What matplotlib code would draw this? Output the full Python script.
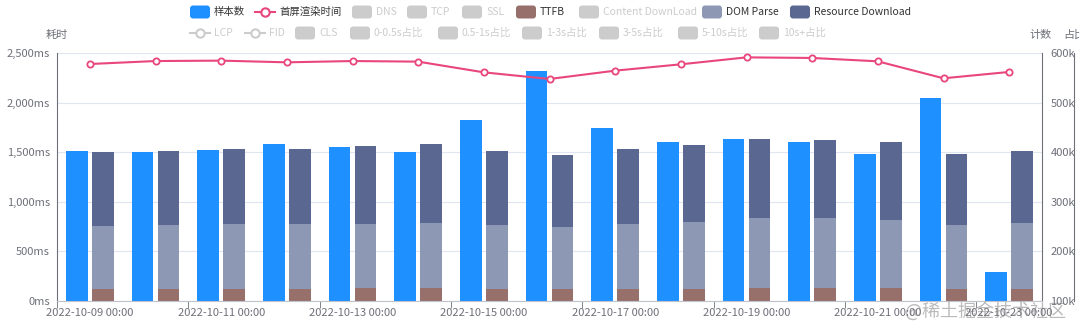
import numpy as np
import matplotlib
matplotlib.use('Agg')
import matplotlib.pyplot as plt
from matplotlib.patches import FancyBboxPatch
from matplotlib.lines import Line2D
from matplotlib.ticker import FuncFormatter

plt.rcParams['font.family'] = ['Noto Sans CJK SC', 'DejaVu Sans']

# ---- data ----
dates = ['2022-10-09 00:00', '2022-10-10 00:00', '2022-10-11 00:00', '2022-10-12 00:00',
         '2022-10-13 00:00', '2022-10-14 00:00', '2022-10-15 00:00', '2022-10-16 00:00',
         '2022-10-17 00:00', '2022-10-18 00:00', '2022-10-19 00:00', '2022-10-20 00:00',
         '2022-10-21 00:00', '2022-10-22 00:00', '2022-10-23 00:00']
# 样本数 (计数, right axis)
sample_count = [402600, 400600, 404600, 416800, 411400, 399400, 464400, 563800,
                448400, 421400, 427600, 421400, 395400, 509400, 159000]
# 首屏渲染时间 (ms)
fcp_ms = [2389, 2419, 2423, 2406, 2419, 2413, 2305, 2238, 2322, 2386, 2456, 2450, 2416, 2245, 2309]
# stacked timing segments (ms)
ttfb_ms = [117, 117, 117, 117, 128, 128, 117, 117, 124, 124, 128, 128, 134, 117, 117]
dom_parse_ms = [638, 645, 655, 655, 651, 661, 645, 628, 648, 675, 711, 704, 685, 645, 672]
resource_ms = [745, 751, 758, 762, 785, 795, 755, 725, 762, 778, 792, 789, 782, 721, 728]

# ---- colours ----
C_BLUE = '#1e90ff'
C_LINE = '#e8467c'
C_TTFB = '#97706c'
C_DOM = '#8d98b4'
C_RES = '#5a6790'
C_OFF = '#cccccc'
C_AXIS = '#6e7079'
C_GRID = '#e0e6f1'

W, H = 1080, 329
fig = plt.figure(figsize=(W / 100, H / 100), dpi=100)
ax = fig.add_axes([57 / W, (H - 301) / H, (1042 - 57) / W, (301 - 53) / H])
ax2 = ax.twinx()
ax3 = ax.twinx()

x = np.arange(len(dates))
bw = 0.33

# blue bars on count axis (below)
ax2.bar(x - 0.2, sample_count, bw, color=C_BLUE, zorder=2)
ax2.set_ylim(100000, 600000)
ax2.set_yticks(np.arange(100000, 600001, 100000))
ax2.yaxis.set_major_formatter(FuncFormatter(lambda v, p: '%dk' % (v / 1000)))
ax2.grid(axis='y', color=C_GRID, lw=0.8)
ax2.set_axisbelow(True)
ax2.tick_params(axis='y', length=0, pad=6, labelsize=8, labelcolor=C_AXIS)
for s in ['top', 'left', 'bottom']:
    ax2.spines[s].set_visible(False)
ax2.spines['right'].set_color(C_AXIS)

# stacked bars + line on ms axis (on top)
ax.set_zorder(ax2.get_zorder() + 1)
ax.patch.set_visible(False)
ax.bar(x + 0.2, ttfb_ms, bw, color=C_TTFB)
ax.bar(x + 0.2, dom_parse_ms, bw, bottom=ttfb_ms, color=C_DOM)
ax.bar(x + 0.2, resource_ms, bw, bottom=np.add(ttfb_ms, dom_parse_ms), color=C_RES)
ax.plot(x, fcp_ms, color=C_LINE, lw=1.5, marker='o', ms=4.5, mfc='white', mec=C_LINE, mew=1.3)

ax.set_xlim(-0.5, len(dates) - 0.5)
ax.set_ylim(0, 2500)
ax.set_yticks(np.arange(0, 2501, 500))
ax.yaxis.set_major_formatter(FuncFormatter(lambda v, p: '{:,}ms'.format(int(v))))
ax.set_xticks(x[::2])
ax.set_xticklabels(dates[::2])
ax.set_xticks(np.arange(-0.5, len(dates) - 0.4, 2), minor=True)
ax.tick_params(axis='x', which='major', length=0, pad=5, labelsize=8, labelcolor=C_AXIS)
ax.tick_params(axis='x', which='minor', length=5, color=C_AXIS)
ax.tick_params(axis='y', length=0, pad=5, labelsize=8, labelcolor=C_AXIS)
ax.spines['top'].set_visible(False)
ax.spines['right'].set_visible(False)
ax.spines['left'].set_color(C_AXIS)
ax.spines['bottom'].set_color('#bfc3cc')

# 占比 axis (only its line)
ax3.spines['right'].set_position(('outward', 32 * 72 / 100))
ax3.spines['right'].set_color(C_AXIS)
for s in ['top', 'left', 'bottom']:
    ax3.spines[s].set_visible(False)
ax3.set_yticks([])
ax3.patch.set_visible(False)

# ---- overlay: legend, axis names, watermark ----
ov = fig.add_axes([0, 0, 1, 1], zorder=10)
ov.set_xlim(0, W)
ov.set_ylim(H, 0)
ov.axis('off')

legend_rows = [
    (12, [(190, 'rect', '样本数', C_BLUE, True),
          (255, 'line', '首屏渲染时间', C_LINE, True),
          (352, 'rect', 'DNS', C_OFF, False),
          (407, 'rect', 'TCP', C_OFF, False),
          (462, 'rect', 'SSL', C_OFF, False),
          (516, 'rect', 'TTFB', C_TTFB, True),
          (579, 'rect', 'Content DownLoad', C_OFF, False),
          (702, 'rect', 'DOM Parse', C_DOM, True),
          (790, 'rect', 'Resource Download', C_RES, True)]),
    (33, [(190, 'line', 'LCP', C_OFF, False),
          (245, 'line', 'FID', C_OFF, False),
          (295, 'rect', 'CLS', C_OFF, False),
          (350, 'rect', '0-0.5s占比', C_OFF, False),
          (438, 'rect', '0.5-1s占比', C_OFF, False),
          (522, 'rect', '1-3s占比', C_OFF, False),
          (599, 'rect', '3-5s占比', C_OFF, False),
          (678, 'rect', '5-10s占比', C_OFF, False),
          (759, 'rect', '10s+占比', C_OFF, False)]),
]
for y, items in legend_rows:
    for lx, kind, label, col, on in items:
        if kind == 'rect':
            ov.add_patch(FancyBboxPatch((lx, y - 6.5), 20, 13,
                                        boxstyle='round,pad=0,rounding_size=3',
                                        fc=col, ec='none'))
        else:
            ov.add_line(Line2D([lx, lx + 20], [y, y], color=col, lw=1.5))
            ov.plot(lx + 10, y, marker='o', ms=6, mfc='white', mec=col, mew=1.5)
        ov.text(lx + 24, y, label, ha='left', va='center', fontsize=7.5,
                color='#333333' if on else C_OFF)

ov.text(57, 35, '耗时', ha='center', va='center', fontsize=8, color=C_AXIS)
ov.text(1041, 35, '计数', ha='center', va='center', fontsize=8, color=C_AXIS)
ov.text(1074, 35, '占比', ha='center', va='center', fontsize=8, color=C_AXIS)
ov.text(985, 311, '@稀土掘金技术社区', ha='center', va='center', fontsize=13,
        color='#777777', alpha=0.5)

fig.savefig('out.png', dpi=100)
